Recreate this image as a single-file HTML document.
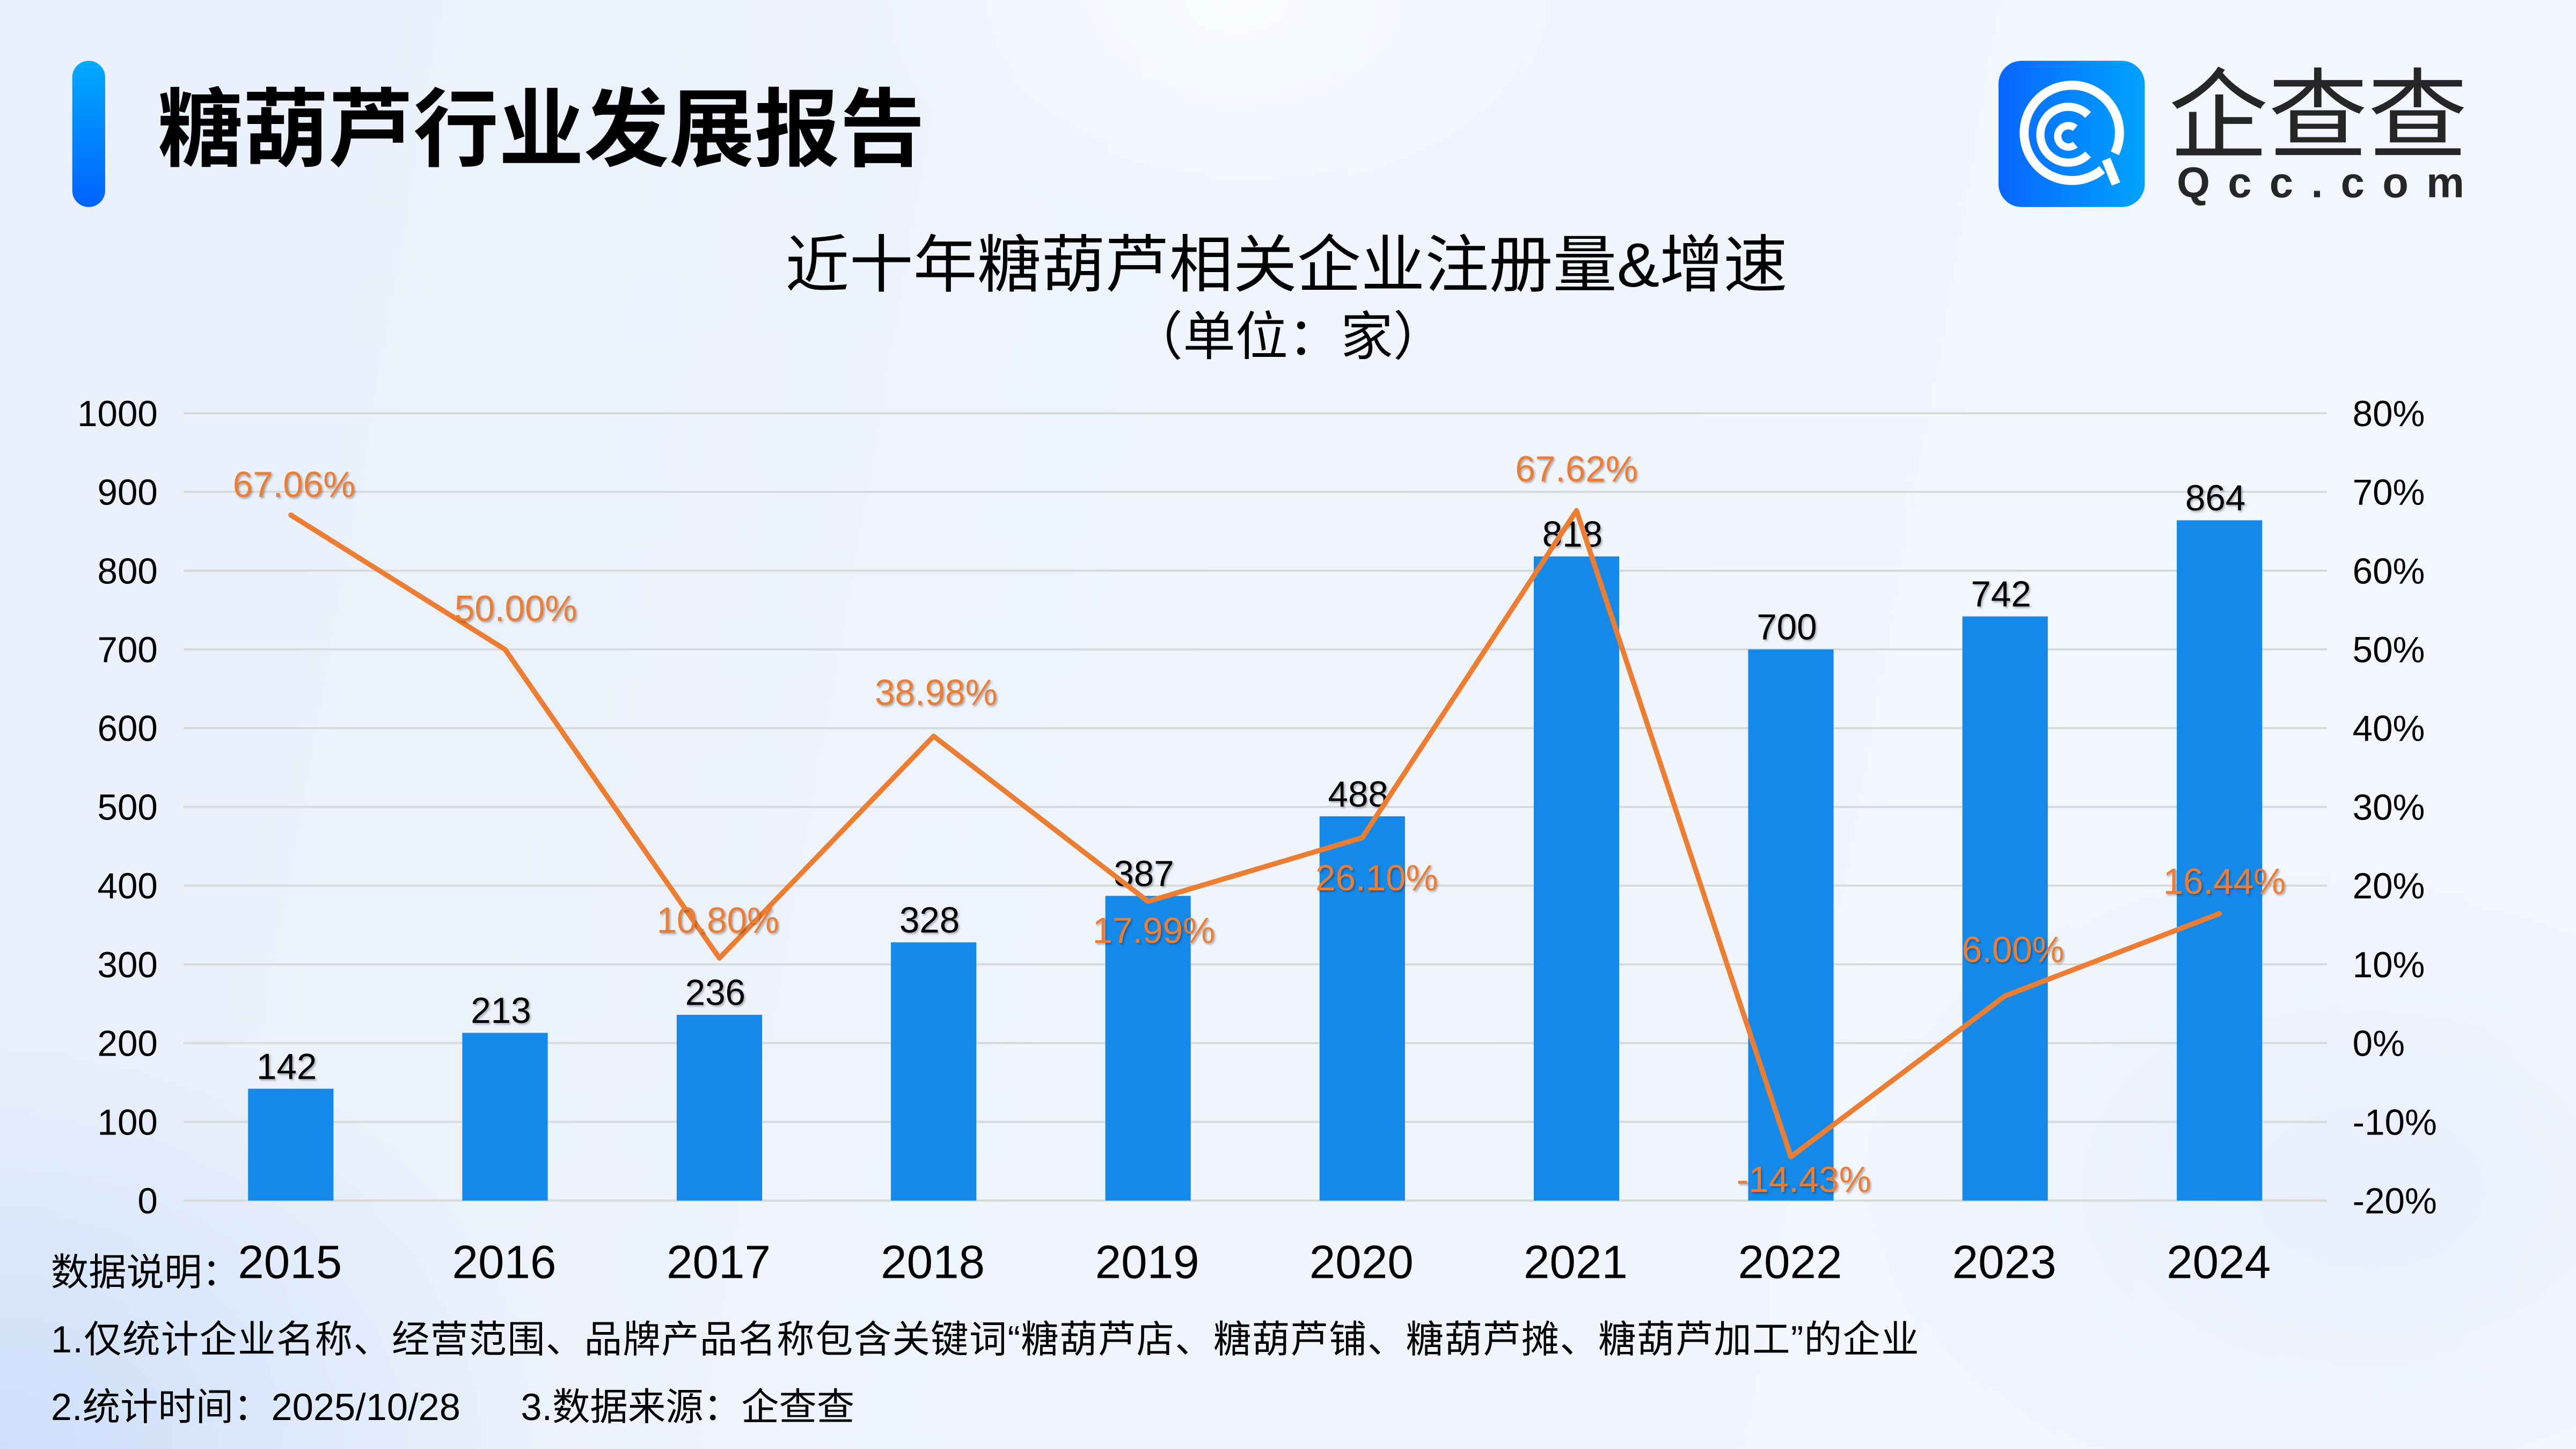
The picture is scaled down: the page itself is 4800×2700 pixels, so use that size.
<!DOCTYPE html>
<html>
<head>
<meta charset="utf-8">
<style>
html,body{margin:0;padding:0;}
body{width:4800px;height:2700px;overflow:hidden;
background:
 radial-gradient(ellipse 22% 30% at 0% 100%, rgba(200,220,250,0.85) 0%, rgba(200,220,250,0) 100%),
 radial-gradient(ellipse 14% 16% at 48% 0%, rgba(250,252,255,0.95) 0%, rgba(250,252,255,0) 100%),
 radial-gradient(ellipse 20% 25% at 92% 82%, rgba(225,235,252,0.6) 0%, rgba(225,235,252,0) 100%),
 linear-gradient(100deg, #E9F0FC 0%, #EFF4FD 45%, #F4F7FE 100%);
}
svg{display:block;}
text{font-family:"Liberation Sans","Noto Sans CJK SC",sans-serif;}
</style>
</head>
<body>
<svg width="4800" height="2700" viewBox="0 0 1568 882" xmlns="http://www.w3.org/2000/svg">
<defs>
 <linearGradient id="gbar" x1="0" y1="0" x2="0" y2="1">
  <stop offset="0" stop-color="#00AAFF"/>
  <stop offset="1" stop-color="#0062FF"/>
 </linearGradient>
 <linearGradient id="glogo" x1="0" y1="0" x2="1" y2="0">
  <stop offset="0" stop-color="#0866FF"/>
  <stop offset="1" stop-color="#00A3FF"/>
 </linearGradient>
 <filter id="sh" x="-20%" y="-30%" width="140%" height="160%">
  <feDropShadow dx="0.8" dy="0.9" stdDeviation="0.6" flood-color="#000" flood-opacity="0.3"/>
 </filter>
</defs>

<!-- header -->
<rect x="44" y="37" width="20" height="89" rx="10" fill="url(#gbar)"/>
<text x="96" y="97" font-size="52" font-weight="700" fill="#000" textLength="467" lengthAdjust="spacingAndGlyphs" style="font-family:'Noto Sans CJK SC',sans-serif">糖葫芦行业发展报告</text>

<!-- logo -->
<rect x="1216.5" y="37" width="89" height="89" rx="14" fill="url(#glogo)"/>
<g fill="none" stroke="#fff" stroke-linecap="butt">
 <path d="M 1279.6 103.2 A 29 29 0 1 1 1287.3 93.3" stroke-width="5.5"/>
 <path d="M 1282 97 L 1288 112" stroke-width="5.5"/>
 <path d="M 1271 94 A 17 17 0 1 1 1271 70" stroke-width="5"/>
 <path d="M 1263.2 88 A 6.5 6.5 0 1 1 1263.2 78" stroke-width="4.5"/>
</g>
<text x="1320" y="91.5" font-size="60" fill="#262626" textLength="182" lengthAdjust="spacingAndGlyphs" style="font-family:'Noto Sans CJK SC',sans-serif">企查查</text>
<text x="1325" y="120" font-size="26" font-weight="700" fill="#262626" textLength="175" lengthAdjust="spacing">Qcc.com</text>

<!-- chart title -->
<text x="783" y="174.5" font-size="38" fill="#000" text-anchor="middle" textLength="610" lengthAdjust="spacingAndGlyphs">近十年糖葫芦相关企业注册量&amp;增速</text>
<text x="784" y="216" font-size="32" fill="#000" text-anchor="middle">（单位：家）</text>

<!-- gridlines -->
<g stroke="#D9D9D9" stroke-width="1.3">
 <line x1="111.8" x2="1416.4" y1="251.5" y2="251.5"/>
 <line x1="111.8" x2="1416.4" y1="299.4" y2="299.4"/>
 <line x1="111.8" x2="1416.4" y1="347.4" y2="347.4"/>
 <line x1="111.8" x2="1416.4" y1="395.3" y2="395.3"/>
 <line x1="111.8" x2="1416.4" y1="443.2" y2="443.2"/>
 <line x1="111.8" x2="1416.4" y1="491.2" y2="491.2"/>
 <line x1="111.8" x2="1416.4" y1="539.1" y2="539.1"/>
 <line x1="111.8" x2="1416.4" y1="587.0" y2="587.0"/>
 <line x1="111.8" x2="1416.4" y1="634.9" y2="634.9"/>
 <line x1="111.8" x2="1416.4" y1="682.9" y2="682.9"/>
 <line x1="111.8" x2="1416.4" y1="730.8" y2="730.8"/>
</g>

<!-- left axis -->
<g font-size="22" fill="#000" text-anchor="end">
 <text x="96" y="259.3">1000</text>
 <text x="96" y="307.2">900</text>
 <text x="96" y="355.2">800</text>
 <text x="96" y="403.1">700</text>
 <text x="96" y="451.0">600</text>
 <text x="96" y="499.0">500</text>
 <text x="96" y="546.9">400</text>
 <text x="96" y="594.8">300</text>
 <text x="96" y="642.7">200</text>
 <text x="96" y="690.7">100</text>
 <text x="96" y="738.6">0</text>
</g>
<!-- right axis -->
<g font-size="22" fill="#000" text-anchor="start">
 <text x="1432" y="259.3">80%</text>
 <text x="1432" y="307.2">70%</text>
 <text x="1432" y="355.2">60%</text>
 <text x="1432" y="403.1">50%</text>
 <text x="1432" y="451.0">40%</text>
 <text x="1432" y="499.0">30%</text>
 <text x="1432" y="546.9">20%</text>
 <text x="1432" y="594.8">10%</text>
 <text x="1432" y="642.7">0%</text>
 <text x="1432" y="690.7">-10%</text>
 <text x="1432" y="738.6">-20%</text>
</g>

<!-- bars -->
<g fill="#1589EA">
 <rect x="151.0" y="662.7" width="52" height="68.1"/>
 <rect x="281.4" y="628.7" width="52" height="102.1"/>
 <rect x="411.9" y="617.7" width="52" height="113.1"/>
 <rect x="542.3" y="573.6" width="52" height="157.2"/>
 <rect x="672.8" y="545.3" width="52" height="185.5"/>
 <rect x="803.2" y="496.9" width="52" height="233.9"/>
 <rect x="933.6" y="338.7" width="52" height="392.1"/>
 <rect x="1064.1" y="395.3" width="52" height="335.5"/>
 <rect x="1194.5" y="375.2" width="52" height="355.6"/>
 <rect x="1325.0" y="316.7" width="52" height="414.1"/>
</g>

<!-- bar labels -->
<g font-size="22" fill="#000" text-anchor="middle" filter="url(#sh)">
 <text x="174.5" y="656.7">142</text>
 <text x="304.9" y="622.7">213</text>
 <text x="435.4" y="611.7">236</text>
 <text x="565.8" y="567.6">328</text>
 <text x="696.3" y="539.3">387</text>
 <text x="826.7" y="490.9">488</text>
 <text x="957.1" y="332.7">818</text>
 <text x="1087.6" y="389.3">700</text>
 <text x="1218.0" y="369.2">742</text>
 <text x="1348.5" y="310.7">864</text>
</g>

<!-- line -->
<polyline fill="none" stroke="#ED7D31" stroke-width="3.1" stroke-linejoin="round" stroke-linecap="round"
 points="177.0,313.5 307.4,395.3 437.9,583.2 568.3,448.1 698.8,548.7 829.2,509.9 959.6,310.8 1090.1,704.1 1220.5,606.2 1351.0,556.1"/>

<!-- pct labels -->
<g font-size="22" fill="#ED7D31" text-anchor="middle" filter="url(#sh)">
 <text x="179" y="302.5">67.06%</text>
 <text x="314" y="378">50.00%</text>
 <text x="437" y="567.7">10.80%</text>
 <text x="569.8" y="429">38.98%</text>
 <text x="702.3" y="574">17.99%</text>
 <text x="838" y="542">26.10%</text>
 <text x="959.6" y="293">67.62%</text>
 <text x="1098" y="725.5">-14.43%</text>
 <text x="1225.4" y="585.5">6.00%</text>
 <text x="1354" y="544">16.44%</text>
</g>

<!-- x labels -->
<g font-size="28.5" fill="#000" text-anchor="middle">
 <text x="176.5" y="778">2015</text>
 <text x="306.9" y="778">2016</text>
 <text x="437.4" y="778">2017</text>
 <text x="567.8" y="778">2018</text>
 <text x="698.3" y="778">2019</text>
 <text x="828.7" y="778">2020</text>
 <text x="959.1" y="778">2021</text>
 <text x="1089.6" y="778">2022</text>
 <text x="1220.0" y="778">2023</text>
 <text x="1350.5" y="778">2024</text>
</g>

<!-- footnotes -->
<g font-size="23" fill="#000">
 <text x="31" y="782.4">数据说明：</text>
 <text x="31" y="823.2" textLength="1137" lengthAdjust="spacing">1.仅统计企业名称、经营范围、品牌产品名称包含关键词“糖葫芦店、糖葫芦铺、糖葫芦摊、糖葫芦加工”的企业</text>
 <text x="31" y="864.3">2.统计时间：2025/10/28</text>
 <text x="317" y="864.3">3.数据来源：企查查</text>
</g>
</svg>
</body>
</html>
